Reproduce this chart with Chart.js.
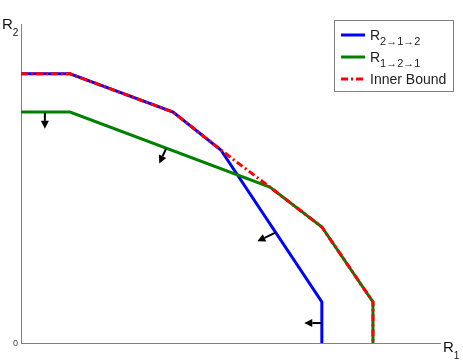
<!DOCTYPE html>
<html><head><meta charset="utf-8">
<script src="https://cdn.jsdelivr.net/npm/chart.js@4"></script>
<style>html,body{margin:0;padding:0;background:#fff}canvas{display:block}</style>
</head><body>
<canvas id="c" width="463" height="364"></canvas>
<script>
// Region vertices (arbitrary rate units)
const xBlue  = [0, 1.17, 3.63, 4.77, 7.18, 7.18];
const yBlue  = [6.75, 6.75, 5.79, 4.84, 1.03, 0];
const xGreen = [0, 1.17, 5.94, 7.18, 8.40, 8.40];
const yGreen = [5.79, 5.79, 3.91, 2.91, 1.03, 0];
const xInner = [0, 1.17, 3.63, 4.77, 5.94, 7.18, 8.40, 8.40];
const yInner = [6.75, 6.75, 5.79, 4.84, 3.91, 2.91, 1.03, 0];
// Arrows (start -> end), data units
const arrowFromX = [0.57, 3.46, 6.06, 7.18];
const arrowFromY = [5.77, 4.87, 2.76, 0.50];
const arrowToX   = [0.57, 3.30, 5.64, 6.76];
const arrowToY   = [5.37, 4.50, 2.55, 0.50];
// Labels
const legendBase = ['R', 'R', 'Inner Bound'];
const legendSub  = ['2\u21921\u21922', '1\u21922\u21921', ''];
const xAxisBase = 'R', xAxisSub = '1';
const yAxisBase = 'R', yAxisSub = '2';
const originTick = '0';

const pts = (xs, ys) => xs.map((x, i) => ({x, y: ys[i]}));
const FONT = '"Liberation Sans", Arial, sans-serif';

const colors = ['#0000ff', '#008000', '#ff0000'];
const dashes = [[], [], [7, 3, 2, 3]];

const overlay = {
  id: 'overlay',
  afterDatasetsDraw(chart) {
    const ctx = chart.ctx;
    const xs = chart.scales.x, ys = chart.scales.y;
    ctx.save();
    ctx.strokeStyle = '#000'; ctx.fillStyle = '#000'; ctx.lineWidth = 2;
    for (let i = 0; i < arrowFromX.length; i++) {
      const x0 = xs.getPixelForValue(arrowFromX[i]), y0 = ys.getPixelForValue(arrowFromY[i]);
      const x1 = xs.getPixelForValue(arrowToX[i]), y1 = ys.getPixelForValue(arrowToY[i]);
      const a = Math.atan2(y1 - y0, x1 - x0);
      const hl = 8, hw = 4;
      const bx = x1 - hl * Math.cos(a), by = y1 - hl * Math.sin(a);
      ctx.beginPath(); ctx.moveTo(x0, y0); ctx.lineTo(bx, by); ctx.stroke();
      ctx.beginPath();
      ctx.moveTo(x1, y1);
      ctx.lineTo(bx + hw * Math.sin(a), by - hw * Math.cos(a));
      ctx.lineTo(bx - hw * Math.sin(a), by + hw * Math.cos(a));
      ctx.closePath(); ctx.fill();
    }
    ctx.restore();
  },
  afterDraw(chart) {
    const ctx = chart.ctx;
    const xs = chart.scales.x, ys = chart.scales.y;
    ctx.save();
    ctx.fillStyle = '#444'; ctx.font = '9px ' + FONT;
    ctx.textAlign = 'right'; ctx.textBaseline = 'middle';
    ctx.fillText(originTick, xs.left - 3, ys.getPixelForValue(0) + 1);
    ctx.fillStyle = '#111'; ctx.textAlign = 'left'; ctx.textBaseline = 'alphabetic';
    ctx.font = '15px ' + FONT;
    ctx.fillText(xAxisBase, xs.right + 3, ys.bottom + 9);
    let w = ctx.measureText(xAxisBase).width;
    ctx.font = '10px ' + FONT;
    ctx.fillText(xAxisSub, xs.right + 3 + w, ys.bottom + 16);
    ctx.font = '15px ' + FONT;
    ctx.fillText(yAxisBase, 2, ys.top + 5);
    w = ctx.measureText(yAxisBase).width;
    ctx.font = '10px ' + FONT;
    ctx.fillText(yAxisSub, 2 + w, ys.top + 12);
    // legend
    const bx = 334.5, by = 20.5, bw = 119, bh = 71;
    ctx.fillStyle = '#fff'; ctx.fillRect(bx, by, bw, bh);
    ctx.strokeStyle = '#808080'; ctx.lineWidth = 1; ctx.strokeRect(bx, by, bw, bh);
    const rowY = [35, 57, 79];
    for (let i = 0; i < 3; i++) {
      ctx.strokeStyle = colors[i]; ctx.lineWidth = 3; ctx.setLineDash(dashes[i]);
      ctx.beginPath(); ctx.moveTo(341, rowY[i]); ctx.lineTo(365, rowY[i]); ctx.stroke();
      ctx.setLineDash([]);
      ctx.fillStyle = '#222'; ctx.font = '14px ' + FONT; ctx.textBaseline = 'alphabetic';
      ctx.fillText(legendBase[i], 370, rowY[i] + 5);
      if (legendSub[i]) {
        const ww = ctx.measureText(legendBase[i]).width;
        ctx.font = '11px ' + FONT;
        ctx.fillText(legendSub[i], 370 + ww, rowY[i] + 10);
      }
    }
    ctx.restore();
  }
};

const axisCommon = {
  type: 'linear',
  grid: { display: false, drawTicks: false },
  border: { display: true, color: '#808080', width: 1 },
  ticks: { display: false },
  afterFit(s) { if (s.isHorizontal()) s.height = 0; else s.width = 0; }
};

new Chart(document.getElementById('c'), {
  type: 'line',
  data: {
    datasets: [
      { label: 'Inner Bound', data: pts(xInner, yInner), borderColor: colors[2], borderWidth: 3, borderDash: dashes[2], pointRadius: 0, fill: false, order: 0, tension: 0 },
      { label: 'R1->2->1', data: pts(xGreen, yGreen), borderColor: colors[1], borderWidth: 3, pointRadius: 0, fill: false, order: 1, tension: 0 },
      { label: 'R2->1->2', data: pts(xBlue, yBlue), borderColor: colors[0], borderWidth: 3, pointRadius: 0, fill: false, order: 2, tension: 0 }
    ]
  },
  options: {
    responsive: false,
    animation: false,
    layout: { padding: { left: 21, right: 23, top: 24, bottom: 21 } },
    plugins: { legend: { display: false }, tooltip: { enabled: false } },
    scales: {
      x: Object.assign({}, axisCommon, { min: 0, max: 10, position: 'bottom' }),
      y: Object.assign({}, axisCommon, { min: 0, max: 8, position: 'left' })
    }
  },
  plugins: [overlay]
});
</script>
</body></html>
